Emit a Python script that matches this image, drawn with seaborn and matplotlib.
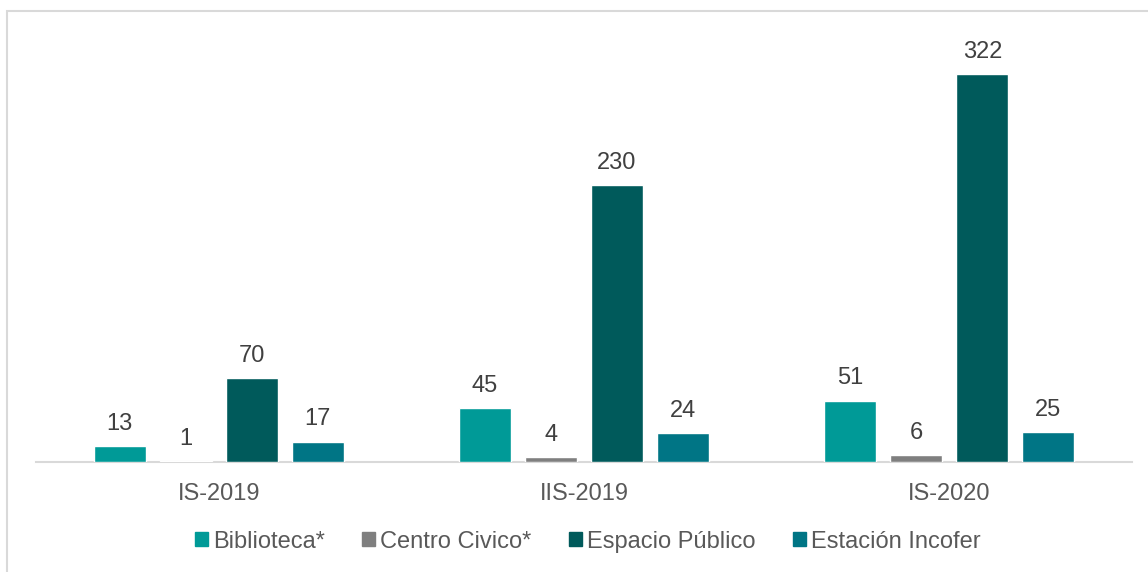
import pandas as pd
import numpy as np
import matplotlib.pyplot as plt
import seaborn as sns
from matplotlib.patches import Rectangle

# data
periodos = ["IS-2019", "IIS-2019", "IS-2020"]
tipos = ["Biblioteca*", "Centro Civico*", "Espacio Público", "Estación Incofer"]
biblioteca = [13, 45, 51]
centro_civico = [1, 4, 6]
espacio_publico = [70, 230, 322]
estacion_incofer = [17, 24, 25]

colores = ["#009A97", "#7F7F7F", "#005A5B", "#007585"]

df = pd.DataFrame({
    "periodo": periodos * 4,
    "tipo": np.repeat(tipos, 3),
    "valor": biblioteca + centro_civico + espacio_publico + estacion_incofer,
})

sns.set_style("white")
plt.rcParams["font.family"] = ["Liberation Sans", "DejaVu Sans"]

fig = plt.figure(figsize=(11.48, 5.72), dpi=100)
ax = fig.add_axes([36 / 1148, 110 / 572, 1096 / 1148, 422 / 572])

sns.barplot(data=df, x="periodo", y="valor", hue="tipo", order=periodos,
            hue_order=tipos, palette=colores, width=0.723, gap=0.215,
            saturation=1, ax=ax, legend=True, zorder=3)

for cont in ax.containers:
    ax.bar_label(cont, padding=8, fontsize=17, color="#404040")

ax.set_xlim(-0.5, 2.5)
ax.set_ylim(0, 350.2)
ax.set_xlabel("")
ax.set_ylabel("")
ax.set_yticks([])
ax.tick_params(axis="x", length=0, pad=15, labelsize=17, labelcolor="#595959")
for s in ["top", "left", "right"]:
    ax.spines[s].set_visible(False)
ax.spines["bottom"].set_color("#D9D9D9")
ax.spines["bottom"].set_linewidth(1.5)
ax.spines["bottom"].set_zorder(1)

ax.legend_.remove()
handles = [Rectangle((0, 0), 1, 1, color=c) for c in colores]
fig.legend(handles, tipos, loc="center", bbox_to_anchor=(0.512, 0.053), ncol=4,
           frameon=False, fontsize=17, handlelength=0.55, handleheight=0.55,
           handletextpad=0.2, columnspacing=1.6, labelcolor="#595959")

# chart border
fig.patches.append(Rectangle((7 / 1148, -0.1), 1.2, 1 - 11 / 572 + 0.1,
                             transform=fig.transFigure, fill=False,
                             edgecolor="#D9D9D9", linewidth=1.5))

fig.savefig("out.png", dpi=100)
